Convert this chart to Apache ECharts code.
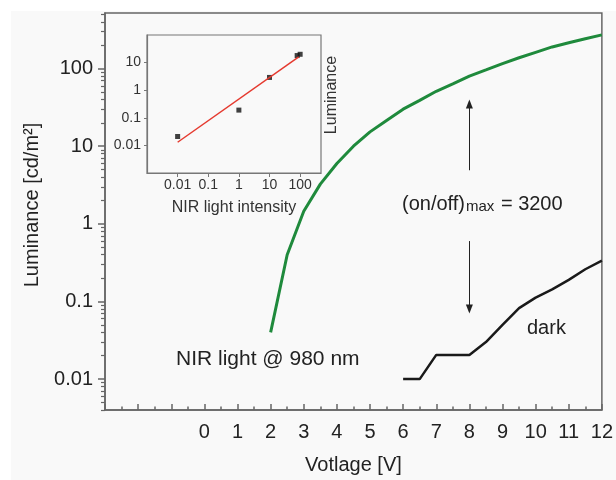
<!DOCTYPE html>
<html>
<head>
<meta charset="utf-8">
<title>Luminance vs voltage</title>
<script src="https://cdn.jsdelivr.net/npm/echarts@6/dist/echarts.min.js"></script>
<style>
    html, body { margin: 0; padding: 0; background: #f9f9f9; }
    #main { width: 616px; height: 480px; }
</style>
</head>
<body>
<div id="main"></div>
<script>
    // main plot: voltage [V] -> luminance [cd/m2]
    var voltLight = [2, 2.5, 3, 3.5, 4, 4.5, 5, 5.5, 6, 6.5, 7, 7.5, 8, 8.5, 9, 9.5, 10, 10.5, 11, 11.5, 12];
    var lumLight = [0.04, 0.4, 1.45, 3.25, 6.0, 10, 15.3, 21.5, 30, 39, 51, 63.5, 80, 96, 116, 138, 162, 190, 215, 242, 272];
    var voltDark = [6, 6.5, 7, 8, 8.5, 9, 9.5, 10, 10.5, 11, 11.5, 12];
    var lumDark = [0.01, 0.01, 0.0205, 0.0205, 0.03, 0.05, 0.082, 0.112, 0.143, 0.19, 0.26, 0.336];
    var yTicks = [0.01, 0.1, 1, 10, 100];

    // on/off arrows at 8 V
    var arrowX = 8;
    var arrowUp = [4.9, 35];
    var arrowDown = [0.6, 0.08];

    // inset: NIR light intensity -> luminance
    var nirIntensity = [0.01, 1, 10, 80, 100];
    var nirLum = [0.021, 0.19, 2.9, 18, 20];
    var fitX = [0.01, 90];
    var fitY = [0.013, 16];
    var insetXTicks = [0.01, 0.1, 1, 10, 100];
    var insetYTicks = [0.01, 0.1, 1, 10];

    function zip(a, b) {
        return a.map(function (v, i) { return [v, b[i]]; });
    }

    // log minor tick positions 2..9 x 10^k
    function logMinor(lo, hi) {
        var out = [];
        for (var k = -4; k <= 3; k++) {
            for (var m = 2; m <= 9; m++) {
                var v = parseFloat((m * Math.pow(10, k)).toPrecision(3));
                if (v >= lo && v <= hi) out.push(v);
            }
        }
        return out;
    }

    function numLabel(v) {
        return String(+(+v).toPrecision(3));
    }

    var font = 'Liberation Sans, Arial, sans-serif';
    var axisGray = '#666';

    var myChart = echarts.init(document.getElementById('main'));

    var option = {
        animation: false,
        backgroundColor: '#f9f9f9',
        textStyle: { fontFamily: font },
        grid: [
            { left: 105, right: 14, top: 13, bottom: 67, show: true, borderColor: axisGray, borderWidth: 1.5 },
            { left: 147, top: 35, width: 174, height: 138, show: true, borderColor: '#777', borderWidth: 1.2 }
        ],
        xAxis: [
            {
                gridIndex: 0,
                type: 'value',
                min: -3,
                max: 12,
                interval: 1,
                name: 'Votlage [V]',
                nameLocation: 'middle',
                nameGap: 45,
                nameTextStyle: { fontSize: 20, color: '#222', fontFamily: font },
                axisLine: { onZero: false, lineStyle: { color: axisGray, width: 1.5 } },
                axisTick: { inside: true, length: 6, lineStyle: { color: axisGray, width: 1.5 } },
                minorTick: { show: true, splitNumber: 2, length: 3.5, lineStyle: { color: axisGray, width: 1.5 } },
                splitLine: { show: false },
                minorSplitLine: { show: false },
                axisLabel: {
                    fontSize: 20,
                    color: '#222',
                    margin: 12,
                    formatter: function (v) { return v < 0 ? '' : String(v); }
                }
            },
            {
                gridIndex: 1,
                type: 'log',
                min: 0.001,
                max: 480,
                name: 'NIR light intensity',
                nameLocation: 'middle',
                nameGap: 27,
                nameTextStyle: { fontSize: 16, color: '#333', fontFamily: font },
                axisLine: { onZero: false, lineStyle: { color: '#777', width: 1.2 } },
                axisTick: { customValues: insetXTicks, length: 4, lineStyle: { color: '#777' } },
                splitLine: { show: false },
                axisLabel: {
                    customValues: insetXTicks,
                    fontSize: 14,
                    color: '#333',
                    margin: 5,
                    formatter: numLabel
                }
            }
        ],
        yAxis: [
            {
                gridIndex: 0,
                type: 'log',
                position: 'left',
                min: 0.004,
                max: 520,
                axisLine: { onZero: false, lineStyle: { color: axisGray, width: 1.5 } },
                axisTick: { customValues: yTicks, length: 7, lineStyle: { color: axisGray, width: 1.5 } },
                splitLine: { show: false },
                axisLabel: {
                    customValues: yTicks,
                    fontSize: 20,
                    color: '#222',
                    margin: 12,
                    formatter: numLabel
                }
            },
            {
                gridIndex: 0,
                type: 'log',
                position: 'left',
                offset: 0,
                min: 0.004,
                max: 520,
                axisLine: { show: false, onZero: false },
                axisTick: { customValues: logMinor(0.004, 520), length: 4, lineStyle: { color: axisGray, width: 1.2 } },
                splitLine: { show: false },
                axisLabel: { show: false }
            },
            {
                gridIndex: 1,
                type: 'log',
                min: 0.001,
                max: 100,
                axisLine: { onZero: false, lineStyle: { color: '#777', width: 1.2 } },
                axisTick: { customValues: insetYTicks, length: 3, lineStyle: { color: '#777' } },
                splitLine: { show: false },
                axisLabel: {
                    customValues: insetYTicks,
                    fontSize: 14,
                    color: '#333',
                    margin: 6,
                    formatter: numLabel
                }
            }
        ],
        series: [
            {
                name: 'NIR light',
                type: 'line',
                xAxisIndex: 0,
                yAxisIndex: 0,
                data: zip(voltLight, lumLight),
                showSymbol: false,
                lineStyle: { color: '#1f8a3c', width: 3 },
                itemStyle: { color: '#1f8a3c' }
            },
            {
                name: 'dark',
                type: 'line',
                xAxisIndex: 0,
                yAxisIndex: 0,
                data: zip(voltDark, lumDark),
                showSymbol: false,
                lineStyle: { color: '#1a1a1a', width: 2.5 },
                itemStyle: { color: '#1a1a1a' },
                markLine: {
                    silent: true,
                    symbol: ['none', 'triangle'],
                    symbolSize: [7, 9],
                    label: { show: false },
                    lineStyle: { color: '#222', width: 1, type: 'solid' },
                    data: [
                        [{ coord: [arrowX, arrowUp[0]] }, { coord: [arrowX, arrowUp[1]] }],
                        [{ coord: [arrowX, arrowDown[0]] }, { coord: [arrowX, arrowDown[1]] }]
                    ]
                }
            },
            {
                name: 'inset points',
                type: 'scatter',
                xAxisIndex: 1,
                yAxisIndex: 2,
                data: zip(nirIntensity, nirLum),
                symbol: 'rect',
                symbolSize: 5,
                itemStyle: { color: '#111' }
            },
            {
                name: 'inset fit',
                type: 'line',
                xAxisIndex: 1,
                yAxisIndex: 2,
                data: zip(fitX, fitY),
                showSymbol: false,
                lineStyle: { color: '#e53a2f', width: 1.5 },
                itemStyle: { color: '#e53a2f' }
            }
        ],
        graphic: [
            { type: 'rect', left: 0, top: 0, shape: { width: 616, height: 11 }, style: { fill: '#fff' }, silent: true },
            { type: 'rect', left: 0, top: 0, shape: { width: 11, height: 480 }, style: { fill: '#fff' }, silent: true },
            {
                type: 'text', x: 32, y: 205, rotation: Math.PI / 2,
                style: { text: 'Luminance [cd/m²]', font: '20px ' + font, fill: '#222', align: 'center', verticalAlign: 'middle' }
            },
            {
                type: 'text', x: 332, y: 95, rotation: Math.PI / 2,
                style: { text: 'Luminance', font: '16px ' + font, fill: '#333', align: 'center', verticalAlign: 'middle' }
            },
            {
                type: 'text', x: 176, y: 359,
                style: { text: 'NIR light @ 980 nm', font: '21px ' + font, fill: '#222', align: 'left', verticalAlign: 'middle' }
            },
            {
                type: 'text', x: 527, y: 328,
                style: { text: 'dark', font: '20px ' + font, fill: '#222', align: 'left', verticalAlign: 'middle' }
            },
            {
                type: 'text', x: 402, y: 202,
                style: {
                    text: '{a|(on/off)}{b|max}{a| = 3200}',
                    align: 'left',
                    verticalAlign: 'middle',
                    rich: {
                        a: { fontSize: 20, fontFamily: font, fill: '#222', verticalAlign: 'bottom', lineHeight: 24 },
                        b: { fontSize: 15, fontFamily: font, fill: '#222', verticalAlign: 'bottom', lineHeight: 20, padding: [0, 1, 0, 1] }
                    }
                }
            }
        ]
    };

    myChart.setOption(option);
</script>
</body>
</html>
